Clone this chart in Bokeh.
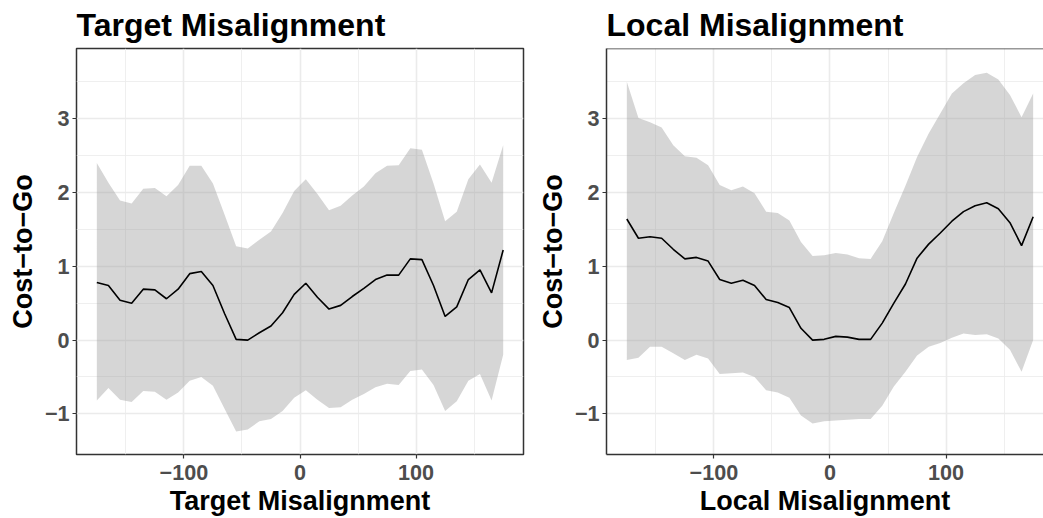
from bokeh.plotting import figure
from bokeh.models import FixedTicker, Range1d, Span
from bokeh.layouts import row
from bokeh.embed import file_html
from bokeh.resources import INLINE

# ---------------- data ----------------
x_deg = [-175, -165, -155, -145, -135, -125, -115, -105, -95, -85, -75, -65,
         -55, -45, -35, -25, -15, -5, 5, 15, 25, 35, 45, 55,
         65, 75, 85, 95, 105, 115, 125, 135, 145, 155, 165, 175]

target_mean = [0.78, 0.74, 0.54, 0.50, 0.69, 0.68, 0.56, 0.69, 0.90, 0.93, 0.74, 0.36,
               0.01, 0.00, 0.10, 0.19, 0.37, 0.62, 0.77, 0.58, 0.42, 0.47, 0.59, 0.70,
               0.82, 0.88, 0.88, 1.10, 1.09, 0.74, 0.32, 0.45, 0.82, 0.95, 0.64, 1.22]
target_upper = [2.40, 2.13, 1.89, 1.85, 2.05, 2.06, 1.95, 2.10, 2.36, 2.36, 2.12, 1.70,
                1.27, 1.24, 1.36, 1.47, 1.72, 2.02, 2.18, 1.98, 1.76, 1.82, 1.96, 2.08,
                2.26, 2.36, 2.37, 2.60, 2.58, 2.12, 1.61, 1.74, 2.18, 2.38, 2.13, 2.64]
target_lower = [-0.82, -0.65, -0.81, -0.84, -0.69, -0.70, -0.81, -0.71, -0.55, -0.50, -0.62, -0.93,
                -1.24, -1.21, -1.10, -1.07, -0.96, -0.78, -0.68, -0.81, -0.92, -0.91, -0.81, -0.73,
                -0.64, -0.59, -0.61, -0.42, -0.40, -0.61, -0.96, -0.83, -0.55, -0.46, -0.82, -0.20]

local_mean = [1.64, 1.38, 1.40, 1.38, 1.23, 1.10, 1.12, 1.07, 0.82, 0.77, 0.81, 0.74,
              0.55, 0.51, 0.44, 0.16, 0.00, 0.01, 0.05, 0.04, 0.01, 0.01, 0.23, 0.50,
              0.76, 1.11, 1.30, 1.45, 1.61, 1.74, 1.82, 1.86, 1.78, 1.59, 1.28, 1.67]
local_upper = [3.50, 3.01, 2.95, 2.88, 2.64, 2.49, 2.47, 2.37, 2.10, 2.03, 2.08, 1.99,
               1.74, 1.72, 1.62, 1.33, 1.14, 1.15, 1.18, 1.16, 1.11, 1.10, 1.34, 1.72,
               2.09, 2.48, 2.80, 3.07, 3.34, 3.48, 3.59, 3.62, 3.53, 3.32, 3.02, 3.34]
local_lower = [-0.27, -0.24, -0.09, -0.09, -0.18, -0.27, -0.20, -0.25, -0.46, -0.45, -0.44, -0.50,
               -0.68, -0.71, -0.78, -1.02, -1.13, -1.10, -1.09, -1.08, -1.07, -1.07, -0.89, -0.63,
               -0.43, -0.21, -0.09, -0.04, 0.03, 0.09, 0.07, 0.08, 0.02, -0.13, -0.43, 0.00]

x_ticks = [-100, 0, 100]
x_tick_labels = ["\u2212100", "0", "100"]
x_minor = [-150, -50, 50, 150]
y_ticks = [-1, 0, 1, 2, 3]
y_tick_labels = ["\u22121", "0", "1", "2", "3"]
y_minor = [-0.5, 0.5, 1.5, 2.5, 3.5]

titles = ["Target Misalignment", "Local Misalignment"]
x_labels = ["Target Misalignment", "Local Misalignment"]
y_label = "Cost\u2212to\u2212Go"

FONT = "Liberation Sans"
BORDER = "#333333"


def make_panel(title, xlabel, mean, upper, lower, width, mbl, mbr, x_end, full_outline):
    p = figure(width=width, height=518, output_backend="svg", toolbar_location=None,
               x_range=Range1d(-192.5, x_end), y_range=Range1d(-1.55, 3.95),
               min_border_left=mbl, min_border_right=mbr,
               min_border_top=48, min_border_bottom=63)
    p.background_fill_color = "white"
    p.border_fill_color = "white"

    p.varea(x=x_deg, y1=lower, y2=upper, fill_color="#999999", fill_alpha=0.4)
    p.line(x=x_deg, y=mean, line_color="black", line_width=1.6)

    p.title.text = title
    p.title.text_font = FONT
    p.title.text_font_size = "32px"
    p.title.text_font_style = "bold"
    p.title.text_color = "black"
    p.title.align = "left"
    p.title.vertical_align = "top"
    p.title.offset = 0
    p.title.standoff = 8

    p.xaxis.ticker = FixedTicker(ticks=x_ticks, minor_ticks=x_minor)
    p.yaxis.ticker = FixedTicker(ticks=y_ticks, minor_ticks=y_minor)
    p.xaxis.major_label_overrides = dict(zip(x_ticks, x_tick_labels))
    p.yaxis.major_label_overrides = dict(zip(y_ticks, y_tick_labels))

    for ax in (p.xaxis, p.yaxis):
        ax.major_label_text_font = FONT
        ax.major_label_text_font_size = "21.6px"
        ax.major_label_text_font_style = "bold"
        ax.major_label_text_color = "#4d4d4d"
        ax.axis_label_text_font = FONT
        ax.axis_label_text_font_size = "27px"
        ax.axis_label_text_font_style = "bold"
        ax.axis_label_text_color = "black"
        ax.major_tick_in = 0
        ax.major_tick_out = 4
        ax.major_tick_line_color = BORDER
        ax.major_tick_line_width = 1.2
        ax.minor_tick_line_color = None
        ax.major_label_standoff = 3
        ax.axis_label_standoff = 4
    p.xaxis.major_label_standoff = 6
    p.xaxis.axis_label_standoff = 3
    p.xaxis.axis_label = xlabel
    p.yaxis.axis_label = y_label

    p.xgrid.grid_line_color = "#ebebeb"
    p.ygrid.grid_line_color = "#ebebeb"
    p.xgrid.grid_line_width = 1.6
    p.ygrid.grid_line_width = 1.6
    p.xgrid.minor_grid_line_color = "#ebebeb"
    p.ygrid.minor_grid_line_color = "#ebebeb"
    p.xgrid.minor_grid_line_width = 0.8
    p.ygrid.minor_grid_line_width = 0.8

    if full_outline:
        p.outline_line_color = BORDER
        p.outline_line_width = 1.5
        p.xaxis.axis_line_color = None
        p.yaxis.axis_line_color = None
    else:
        p.outline_line_color = None
        p.xaxis.axis_line_color = BORDER
        p.yaxis.axis_line_color = BORDER
        p.xaxis.axis_line_width = 1.5
        p.yaxis.axis_line_width = 1.5
        p.add_layout(Span(location=3.95, dimension="width", line_color=BORDER, line_width=1.5))
    return p


p1 = make_panel(titles[0], x_labels[0], target_mean, target_upper, target_lower,
                width=530, mbl=76, mbr=7, x_end=192.5, full_outline=True)
p2 = make_panel(titles[1], x_labels[1], local_mean, local_upper, local_lower,
                width=513, mbl=76, mbr=0, x_end=183.9, full_outline=False)

layout = row(p1, p2)
open("out.html", "w").write(file_html(layout, INLINE))
